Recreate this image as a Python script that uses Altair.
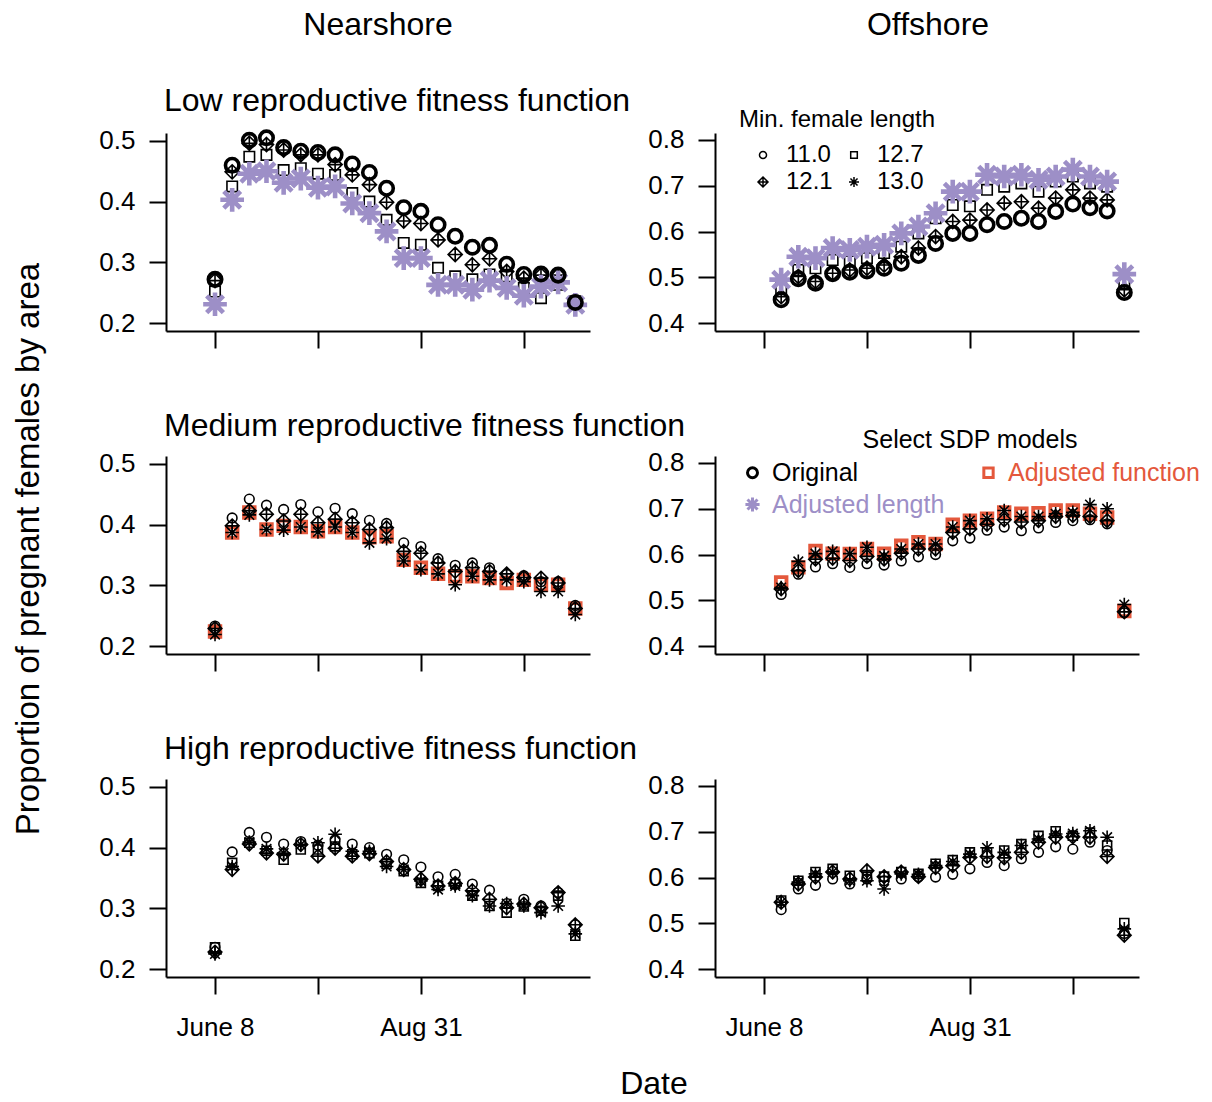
import altair as alt
import pandas as pd

FONT = "Liberation Sans"
BLACK = "#000000"
PURPLE = "#9d8fc7"
ORANGE = "#e4583c"

# ---------------- data ----------------
# days after June 8 (weekly model output)
days_near = [0, 7, 14, 21, 28, 35, 42, 49, 56, 63, 70, 77, 84, 91, 98, 105, 112, 119, 126, 133, 140, 147]
days_off = [7, 14, 21, 28, 35, 42, 49, 56, 63, 70, 77, 84, 91, 98, 105, 112, 119, 126, 133, 140, 147]

lengths = ["11.0", "12.1", "12.7", "13.0"]

# Low reproductive fitness function
low_near_110 = [0.272, 0.460, 0.501, 0.505, 0.489, 0.483, 0.481, 0.477, 0.462, 0.448, 0.422, 0.390, 0.384, 0.362, 0.343, 0.325, 0.328, 0.297, 0.280, 0.281, 0.279, 0.234]
low_near_121 = [0.270, 0.449, 0.496, 0.494, 0.485, 0.477, 0.477, 0.461, 0.444, 0.428, 0.399, 0.368, 0.364, 0.337, 0.313, 0.296, 0.306, 0.285, 0.274, 0.279, 0.279, 0.236]
low_near_127 = [0.252, 0.425, 0.474, 0.477, 0.452, 0.455, 0.446, 0.444, 0.414, 0.400, 0.370, 0.332, 0.329, 0.291, 0.277, 0.272, 0.280, 0.277, 0.258, 0.241, 0.263, 0.236]
low_near_130 = [0.231, 0.403, 0.446, 0.450, 0.431, 0.438, 0.423, 0.425, 0.397, 0.381, 0.351, 0.307, 0.307, 0.263, 0.263, 0.255, 0.270, 0.258, 0.245, 0.260, 0.267, 0.230]

low_off_110 = [0.451, 0.497, 0.487, 0.508, 0.511, 0.514, 0.520, 0.531, 0.548, 0.574, 0.596, 0.596, 0.615, 0.622, 0.629, 0.622, 0.644, 0.660, 0.652, 0.645, 0.467]
low_off_121 = [0.458, 0.502, 0.491, 0.509, 0.516, 0.520, 0.527, 0.545, 0.564, 0.589, 0.622, 0.625, 0.647, 0.662, 0.665, 0.651, 0.673, 0.691, 0.673, 0.669, 0.473]
low_off_127 = [0.476, 0.516, 0.520, 0.538, 0.535, 0.542, 0.553, 0.567, 0.596, 0.629, 0.658, 0.655, 0.691, 0.698, 0.705, 0.687, 0.709, 0.720, 0.705, 0.698, 0.487]
low_off_130 = [0.495, 0.545, 0.542, 0.564, 0.560, 0.567, 0.571, 0.596, 0.611, 0.640, 0.687, 0.687, 0.724, 0.720, 0.724, 0.713, 0.720, 0.735, 0.720, 0.709, 0.507]

# Medium reproductive fitness function
med_near_110 = [0.233, 0.411, 0.442, 0.432, 0.425, 0.433, 0.421, 0.427, 0.418, 0.407, 0.402, 0.370, 0.364, 0.344, 0.333, 0.337, 0.329, 0.318, 0.316, 0.306, 0.306, 0.267]
med_near_121 = [0.229, 0.398, 0.423, 0.417, 0.406, 0.417, 0.403, 0.409, 0.403, 0.392, 0.395, 0.356, 0.353, 0.337, 0.323, 0.329, 0.323, 0.319, 0.313, 0.312, 0.304, 0.262]
med_near_127 = [0.224, 0.387, 0.420, 0.392, 0.398, 0.396, 0.389, 0.396, 0.387, 0.379, 0.381, 0.342, 0.329, 0.319, 0.315, 0.315, 0.312, 0.304, 0.309, 0.301, 0.301, 0.262]
med_near_130 = [0.219, 0.387, 0.416, 0.392, 0.391, 0.396, 0.388, 0.396, 0.387, 0.370, 0.377, 0.340, 0.326, 0.319, 0.301, 0.315, 0.309, 0.309, 0.306, 0.290, 0.290, 0.252]

med_off_110 = [0.513, 0.557, 0.573, 0.580, 0.572, 0.580, 0.577, 0.586, 0.595, 0.600, 0.630, 0.636, 0.653, 0.660, 0.652, 0.658, 0.670, 0.674, 0.676, 0.667, 0.473]
med_off_121 = [0.525, 0.565, 0.590, 0.592, 0.587, 0.596, 0.590, 0.603, 0.612, 0.612, 0.648, 0.656, 0.666, 0.676, 0.671, 0.674, 0.683, 0.685, 0.683, 0.674, 0.475]
med_off_127 = [0.539, 0.572, 0.608, 0.602, 0.601, 0.612, 0.602, 0.619, 0.627, 0.623, 0.665, 0.674, 0.678, 0.692, 0.689, 0.690, 0.696, 0.696, 0.689, 0.681, 0.477]
med_off_130 = [0.528, 0.585, 0.602, 0.607, 0.602, 0.616, 0.597, 0.612, 0.623, 0.623, 0.660, 0.674, 0.678, 0.696, 0.683, 0.683, 0.689, 0.692, 0.709, 0.700, 0.491]

# High reproductive fitness function
high_near_110 = [0.236, 0.393, 0.425, 0.417, 0.406, 0.410, 0.404, 0.413, 0.406, 0.400, 0.389, 0.380, 0.368, 0.352, 0.356, 0.340, 0.330, 0.308, 0.315, 0.304, 0.326, 0.273]
high_near_121 = [0.228, 0.364, 0.406, 0.391, 0.389, 0.405, 0.386, 0.399, 0.386, 0.390, 0.377, 0.364, 0.348, 0.337, 0.341, 0.329, 0.315, 0.301, 0.307, 0.301, 0.326, 0.273]
high_near_127 = [0.236, 0.375, 0.408, 0.395, 0.380, 0.397, 0.397, 0.402, 0.389, 0.391, 0.373, 0.361, 0.342, 0.337, 0.340, 0.321, 0.304, 0.293, 0.303, 0.296, 0.321, 0.255]
high_near_130 = [0.225, 0.369, 0.409, 0.398, 0.391, 0.405, 0.408, 0.422, 0.394, 0.394, 0.369, 0.364, 0.345, 0.331, 0.337, 0.321, 0.304, 0.308, 0.304, 0.293, 0.304, 0.258]

high_off_110 = [0.530, 0.575, 0.583, 0.597, 0.586, 0.597, 0.593, 0.597, 0.601, 0.601, 0.607, 0.619, 0.633, 0.626, 0.641, 0.655, 0.667, 0.662, 0.677, 0.659, 0.478]
high_off_121 = [0.546, 0.586, 0.601, 0.612, 0.597, 0.615, 0.602, 0.612, 0.602, 0.622, 0.626, 0.644, 0.646, 0.643, 0.655, 0.677, 0.688, 0.689, 0.688, 0.646, 0.474]
high_off_127 = [0.550, 0.593, 0.612, 0.619, 0.604, 0.602, 0.602, 0.612, 0.608, 0.630, 0.638, 0.655, 0.655, 0.659, 0.673, 0.691, 0.701, 0.691, 0.698, 0.670, 0.501]
high_off_130 = [0.546, 0.590, 0.608, 0.612, 0.593, 0.593, 0.575, 0.608, 0.607, 0.626, 0.635, 0.651, 0.665, 0.655, 0.670, 0.684, 0.695, 0.696, 0.702, 0.688, 0.488]

col_headers = ["Nearshore", "Offshore"]
row_titles = ["Low reproductive fitness function",
              "Medium reproductive fitness function",
              "High reproductive fitness function"]
x_tick_values = [0, 42, 84, 126]
x_tick_labels = ["June 8", "", "Aug 31", ""]
near_y_ticks = [0.2, 0.3, 0.4, 0.5]
off_y_ticks = [0.4, 0.5, 0.6, 0.7, 0.8]
y_title = "Proportion of pregnant females by area"
x_title = "Date"
legend1_title = "Min. female length"
legend2_title = "Select SDP models"
models = ["Original", "Adjusted length", "Adjusted function"]
model_colors = [BLACK, PURPLE, ORANGE]

# ---------------- styling ----------------
CIRCLE = "M0.707,0A0.707,0.707,0,1,1,-0.707,0A0.707,0.707,0,1,1,0.707,0Z"
SQUARE = "M-0.66,-0.66L0.66,-0.66L0.66,0.66L-0.66,0.66Z"
DIAMOND = "M0,-1L1,0L0,1L-1,0Z M0,-1L0,1 M-1,0L1,0"
ASTER = "M-1,0L1,0 M0,-1L0,1 M-0.707,-0.707L0.707,0.707 M-0.707,0.707L0.707,-0.707"
SHAPES = {"11.0": CIRCLE, "12.1": DIAMOND, "12.7": SQUARE, "13.0": ASTER}
model_shapes = [CIRCLE, ASTER, SQUARE]

W, H = 424, 198
X_DOMAIN = [-20, 153]
NEAR_DOMAIN = [0.187, 0.513]
OFF_DOMAIN = [0.383, 0.815]

LABEL_EXPR = " : ".join(
    f"datum.value == {v} ? '{l}'" for v, l in zip(x_tick_values, x_tick_labels)
) + " : ''"

THIN = (185, 1.6, BLACK)
BIG = 32


def x_axis(show):
    return alt.Axis(values=x_tick_values, labels=show, labelExpr=LABEL_EXPR, title=None,
                    grid=False, tickSize=17, labelPadding=20, labelOverlap=False,
                    labelFlush=False)


def y_axis(ticks):
    return alt.Axis(values=ticks, format=".1f", title=None, grid=False, tickSize=17,
                    labelPadding=14, labelOverlap=False, labelFlush=False)


def text_layer(txt, x, y, size, align="center", angle=None):
    kw = dict(font=FONT, fontSize=size, align=align, baseline="alphabetic", color=BLACK)
    if angle:
        kw["angle"] = angle
    return alt.Chart(alt.Data(values=[{"t": txt}])).mark_text(**kw).encode(
        text="t:N", x=alt.value(x), y=alt.value(y))


def panel(days, series, styles, order, ydom, yticks, show_x, extra):
    xax = x_axis(show_x)
    yax = y_axis(yticks)
    layers = []
    for key in order:
        size, sw, color = styles.get(key, THIN)
        df = pd.DataFrame({"day": days, "prop": series[key]})
        layers.append(
            alt.Chart(df).mark_point(shape=SHAPES[key], filled=False, size=size,
                                     strokeWidth=sw, color=color, opacity=1).encode(
                x=alt.X("day:Q", scale=alt.Scale(domain=X_DOMAIN, nice=False, zero=False), axis=xax),
                y=alt.Y("prop:Q", scale=alt.Scale(domain=ydom, nice=False, zero=False), axis=yax),
            )
        )
    layers += extra
    return alt.layer(*layers).properties(width=W, height=H)


# legends
legend1 = alt.Chart(pd.DataFrame({"length": lengths})).transform_filter("false").mark_point(
    filled=False, size=100, strokeWidth=1.5, color=BLACK, opacity=1).encode(
    shape=alt.Shape("length:N",
                    scale=alt.Scale(domain=lengths, range=[SHAPES[k] for k in lengths]),
                    legend=alt.Legend(title=legend1_title, orient="none", legendX=24, legendY=-25,
                                      columns=2, titleAnchor="middle", titleFontSize=24,
                                      titleFontWeight="normal", titleFont=FONT, titleColor=BLACK,
                                      titlePadding=11, titleLimit=400, labelFont=FONT,
                                      labelFontSize=24, labelColor=BLACK, labelOffset=11,
                                      columnPadding=9, rowPadding=3, symbolSize=100,
                                      symbolStrokeWidth=1.5, symbolStrokeColor=BLACK, padding=0,
                                      labelLimit=300))
)

color_expr = " : ".join(
    f"datum.label == '{m}' ? '{c}'" for m, c in zip(models, model_colors)
) + f" : '{BLACK}'"

leg2_kw = dict(title=legend2_title, orient="none", legendX=25, legendY=-28, columns=2,
               titleAnchor="middle", titleFontSize=25, titleFontWeight="normal", titleFont=FONT,
               titleColor=BLACK, titlePadding=7, titleLimit=500, labelFont=FONT, labelFontSize=25,
               labelColor=alt.ExprRef(expr=color_expr), labelOffset=7, columnPadding=31,
               rowPadding=5, symbolSize=200, symbolStrokeWidth=3, padding=0, labelLimit=400)

legend2 = alt.Chart(pd.DataFrame({"model": models})).transform_filter("false").mark_point(
    filled=False, size=200, strokeWidth=3, opacity=1).encode(
    color=alt.Color("model:N", scale=alt.Scale(domain=models, range=model_colors),
                    legend=alt.Legend(**leg2_kw)),
    shape=alt.Shape("model:N", scale=alt.Scale(domain=models, range=model_shapes),
                    legend=alt.Legend(**leg2_kw)),
)

low_styles = {"11.0": (360, 3.6, BLACK), "13.0": (560, 4.6, PURPLE), "12.7": (250, 1.6, BLACK),
              "12.1": (200, 1.6, BLACK)}
med_styles = {"12.7": (260, 3.8, ORANGE)}
high_styles = {}

p1 = panel(days_near, dict(zip(lengths, [low_near_110, low_near_121, low_near_127, low_near_130])),
           low_styles, ["12.1", "12.7", "13.0", "11.0"], NEAR_DOMAIN, near_y_ticks, False,
           [text_layer(col_headers[0], 212, -98, BIG),
            text_layer(row_titles[0], -2, -22, BIG, align="left")])
p2 = panel(days_off, dict(zip(lengths, [low_off_110, low_off_121, low_off_127, low_off_130])),
           low_styles, ["12.1", "12.7", "13.0", "11.0"], OFF_DOMAIN, off_y_ticks, False,
           [text_layer(col_headers[1], 213, -98, BIG), legend1])
p3 = panel(days_near, dict(zip(lengths, [med_near_110, med_near_121, med_near_127, med_near_130])),
           med_styles, ["12.7", "11.0", "12.1", "13.0"], NEAR_DOMAIN, near_y_ticks, False,
           [text_layer(row_titles[1], -2, -20, BIG, align="left"),
            text_layer(y_title, -127, 93, 33, angle=270)])
p4 = panel(days_off, dict(zip(lengths, [med_off_110, med_off_121, med_off_127, med_off_130])),
           med_styles, ["12.7", "11.0", "12.1", "13.0"], OFF_DOMAIN, off_y_ticks, False,
           [legend2])
p5 = panel(days_near, dict(zip(lengths, [high_near_110, high_near_121, high_near_127, high_near_130])),
           high_styles, ["11.0", "12.1", "12.7", "13.0"], NEAR_DOMAIN, near_y_ticks, True,
           [text_layer(row_titles[2], -2, -20, BIG, align="left"),
            text_layer(x_title, 488, 315, BIG)])
p6 = panel(days_off, dict(zip(lengths, [high_off_110, high_off_121, high_off_127, high_off_130])),
           high_styles, ["11.0", "12.1", "12.7", "13.0"], OFF_DOMAIN, off_y_ticks, True, [])

chart = alt.concat(p1, p2, p3, p4, p5, p6, columns=2,
                   spacing={"row": 125, "column": 125}, bounds="flush").resolve_scale(
    shape="independent", color="independent"
).properties(
    padding={"left": 12, "top": 9, "right": 5, "bottom": 0}
).configure(
    font=FONT, background="white"
).configure_view(
    stroke=None
).configure_axis(
    domainColor=BLACK, domainWidth=2, tickColor=BLACK, tickWidth=2, labelColor=BLACK,
    labelFont=FONT, labelFontSize=26, grid=False
)

chart.save("out.html", embed_options={"renderer": "svg", "actions": False})
